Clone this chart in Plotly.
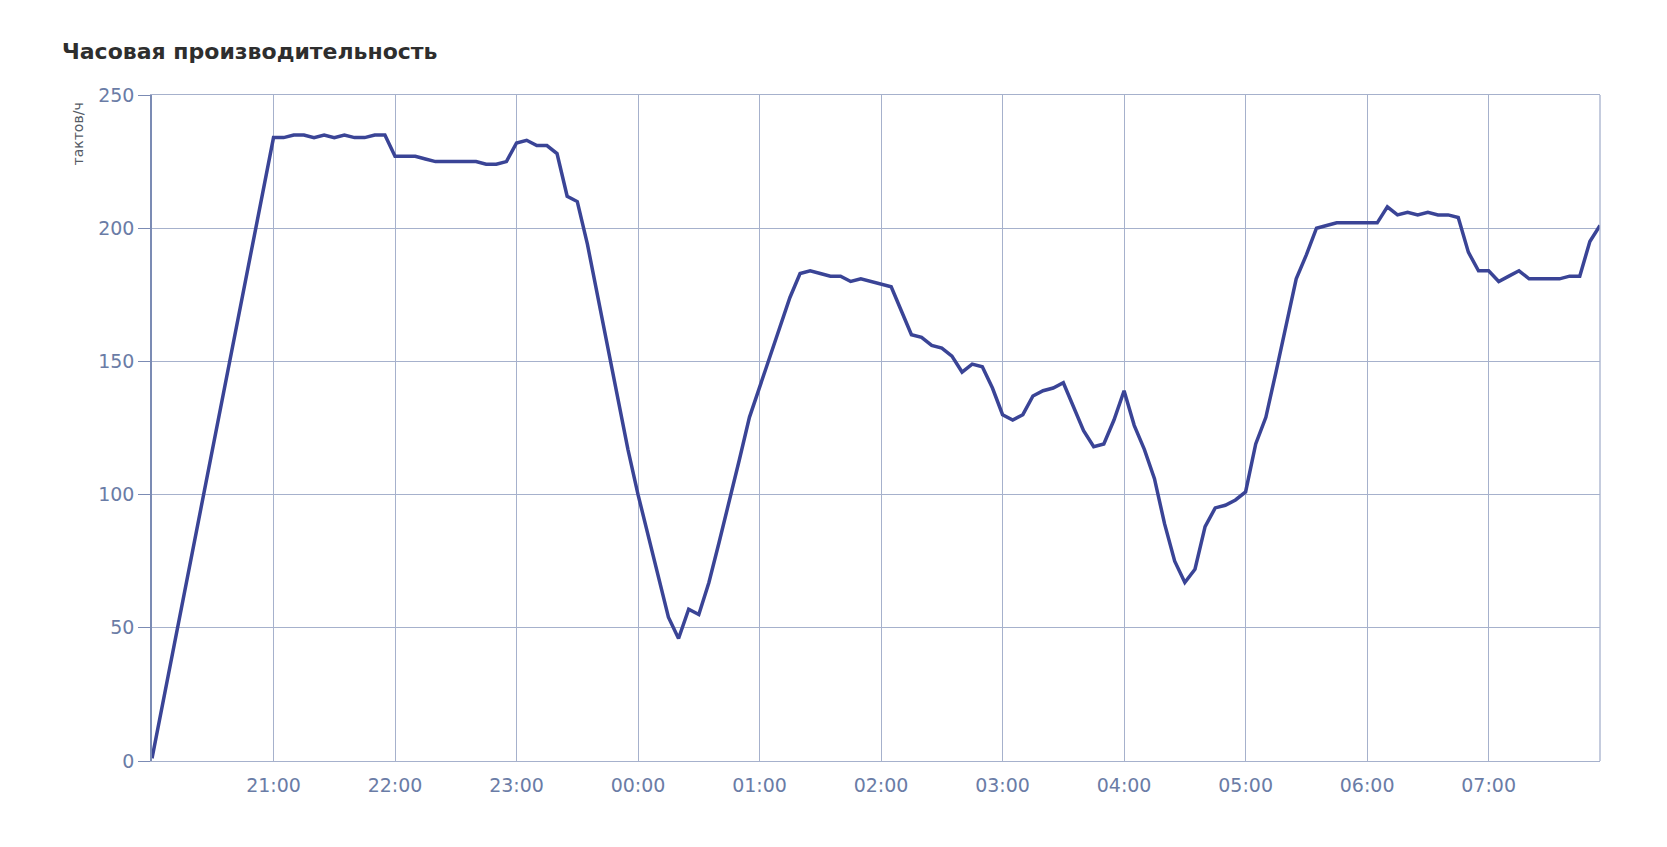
import plotly.graph_objects as go
import pandas as pd

# ---- data ----
times = ["2024-01-01 20:00"] + [str(t) for t in pd.date_range("2024-01-01 21:00", "2024-01-02 07:55", freq="5min")]

values = [
    1,
    # 21:00 - 21:55
    234, 234, 235, 235, 234, 235, 234, 235, 234, 234, 235, 235,
    # 22:00 - 22:55
    227, 227, 227, 226, 225, 225, 225, 225, 225, 224, 224, 225,
    # 23:00 - 23:55
    232, 233, 231, 231, 228, 212, 210, 194, 175, 155, 136, 117,
    # 00:00 - 00:55
    100, 85, 70, 54, 46, 57, 55, 67, 82, 97, 113, 129,
    # 01:00 - 01:55
    140, 151, 163, 174, 183, 184, 183, 182, 182, 180, 181, 180,
    # 02:00 - 02:55
    179, 178, 169, 160, 159, 156, 155, 152, 146, 149, 148, 140,
    # 03:00 - 03:55
    130, 128, 130, 137, 139, 140, 142, 133, 124, 118, 119, 128,
    # 04:00 - 04:55
    139, 126, 117, 106, 89, 75, 67, 72, 88, 95, 96, 98,
    # 05:00 - 05:55
    101, 119, 129, 146, 164, 181, 190, 200, 201, 202, 202, 202,
    # 06:00 - 06:55
    202, 202, 208, 205, 206, 205, 206, 205, 205, 204, 191, 184,
    # 07:00 - 07:55
    184, 180, 182, 184, 181, 181, 181, 181, 182, 182, 195, 201,
]

tick_times = [str(t) for t in pd.date_range("2024-01-01 21:00", "2024-01-02 07:00", freq="1h")]
tick_labels = ["21:00", "22:00", "23:00", "00:00", "01:00", "02:00",
               "03:00", "04:00", "05:00", "06:00", "07:00"]

title_text = "Часовая производительность"
y_title = "тактов/ч"
x_range = ["2024-01-01 20:00", "2024-01-02 07:55"]
y_range = [0, 250]

# ---- style ----
FONT = "DejaVu Sans"
LINE_COLOR = "#3a4496"
GRID = "#a6b1cc"
AXIS = "#7b8bb4"
TICK_FONT = "#6a7ca6"

W, H = 1667, 847
ML, MR, MT, MB = 144, 75, 87, 94

fig = go.Figure()
fig.add_trace(go.Scatter(
    x=times, y=values, mode="lines",
    line=dict(color=LINE_COLOR, width=3.5),
    hoverinfo="x+y", showlegend=False,
))

fig.update_layout(
    width=W, height=H,
    margin=dict(l=ML, r=MR, t=MT, b=MB),
    paper_bgcolor="white", plot_bgcolor="white",
    font=dict(family=FONT, color=TICK_FONT),
    title=dict(text=title_text, x=54 / W, xanchor="left", xref="container",
               y=1 - 43 / H, yanchor="middle", yref="container",
               font=dict(family=FONT, size=22, color="#2e2e2e", weight=700)),
    showlegend=False,
)

fig.update_xaxes(
    type="date", range=x_range,
    tickvals=tick_times, ticktext=tick_labels,
    showgrid=True, gridcolor=GRID, gridwidth=1.3,
    showline=True, linecolor=GRID, linewidth=1.3, mirror=True,
    ticks="outside", ticklen=7, tickcolor="rgba(0,0,0,0)",
    tickfont=dict(family=FONT, size=19, color=TICK_FONT),
    zeroline=False,
)
fig.update_yaxes(
    range=y_range, dtick=50,
    showgrid=True, gridcolor=GRID, gridwidth=1.3,
    showline=True, linecolor=AXIS, linewidth=1.5,
    ticks="outside", ticklen=12, tickcolor=AXIS, tickwidth=1.3,
    tickfont=dict(family=FONT, size=19, color=TICK_FONT),
    zeroline=False,
)

# right border of the plot area
fig.add_shape(type="line", xref="paper", yref="paper", x0=1, x1=1, y0=0, y1=1,
              line=dict(color=GRID, width=1.3))

# y axis title at the top-left
fig.add_annotation(
    text=y_title, textangle=-90, xref="paper", yref="paper",
    x=(69 - ML) / (W - ML - MR), y=1 - 6 / (H - MT - MB),
    xanchor="center", yanchor="top", showarrow=False,
    font=dict(family=FONT, size=14, color="#555b66"),
)

fig.write_html("out.html")
